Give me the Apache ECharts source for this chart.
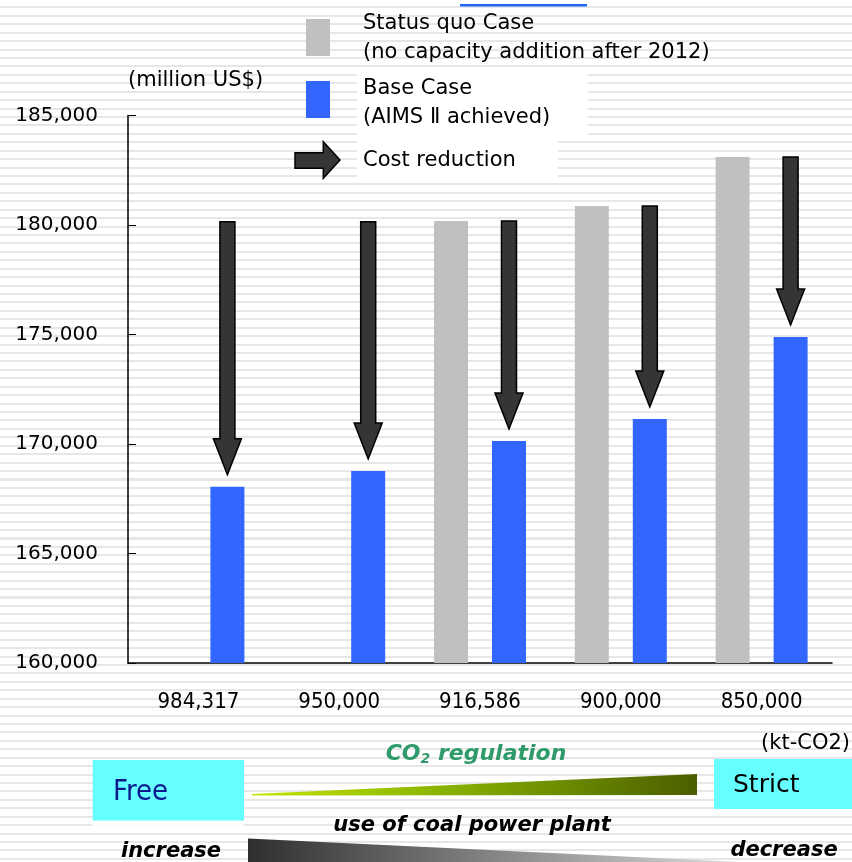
<!DOCTYPE html>
<html>
<head>
<meta charset="utf-8">
<script src="https://cdn.jsdelivr.net/npm/echarts@6/dist/echarts.min.js"></script>
<style>
  html, body { margin: 0; padding: 0; }
  body {
    width: 852px; height: 862px; overflow: hidden;
    background: repeating-linear-gradient(to bottom, #ffffff 0px, #ffffff 6.4px, #e7e7e7 6.4px, #e7e7e7 8.43px);
  }
  #chart { width: 852px; height: 862px; }
</style>
</head>
<body>
<div id="chart"></div>
<script>
// CO2 emission cap (kt-CO2) for each scenario
const categories = ['984,317', '950,000', '916,586', '900,000', '850,000'];
// Total system cost, million US$
const statusQuo = ['-', '-', 180180, 180870, 183100];
const baseCase = [168050, 168770, 170140, 171140, 174890];
// Start level of each cost-reduction arrow
const arrowFrom = [180150, 180150, 180180, 180870, 183100];

const yMin = 160000, yMax = 185000, yStep = 5000;

const BAR_W = 34;
const BAR_GAP = 24;
const BAR_OFFSET = (BAR_W + BAR_GAP) / 2;
const TIP_GAP = 12;

const arrowData = categories.map((c, i) => [i, arrowFrom[i], baseCase[i]]);

const FONT = '"DejaVu Sans", sans-serif';

const chart = echarts.init(document.getElementById('chart'), null, { renderer: 'canvas', width: 852, height: 862 });

function txt(x, y, text, style) {
  return { type: 'text', x: x, y: y, z: 10, style: Object.assign({ text: text, fill: '#000', font: '21px ' + FONT, textVerticalAlign: 'middle' }, style || {}) };
}

const option = {
  animation: false,
  grid: { left: 128, right: 20, top: 115.5, bottom: 199, containLabel: false },
  xAxis: {
    type: 'category',
    data: categories,
    axisLine: { lineStyle: { color: '#000', width: 1.5 } },
    axisTick: { inside: true, length: 8, lineStyle: { color: '#000' } },
    axisLabel: { margin: 28, color: '#000', fontSize: 22, fontFamily: '"Liberation Sans Narrow", "DejaVu Sans Condensed", sans-serif' }
  },
  yAxis: {
    type: 'value',
    min: yMin, max: yMax, interval: yStep,
    splitLine: { show: false },
    axisLine: { show: true, lineStyle: { color: '#000', width: 1.5 } },
    axisTick: { show: true, inside: true, length: 8, lineStyle: { color: '#000' } },
    axisLabel: {
      margin: 30, color: '#000', fontSize: 20, fontFamily: FONT,
      padding: [3, 0, 0, 0],
      formatter: v => v.toLocaleString('en-US')
    }
  },
  series: [
    {
      name: 'Status quo Case', type: 'bar', data: statusQuo,
      barWidth: BAR_W, barGap: (BAR_GAP / BAR_W * 100).toFixed(1) + '%',
      itemStyle: { color: '#c0c0c0' }
    },
    {
      name: 'Base Case', type: 'bar', data: baseCase,
      barWidth: BAR_W,
      itemStyle: { color: '#3366ff' }
    },
    {
      name: 'Cost reduction', type: 'custom', data: arrowData,
      encode: { x: 0, y: [1, 2] },
      z: 5,
      renderItem: function (params, api) {
        const i = api.value(0);
        const top = api.coord([i, api.value(1)]);
        const bot = api.coord([i, api.value(2)]);
        const cx = top[0] + BAR_OFFSET;
        const y0 = top[1];
        const tip = bot[1] - TIP_GAP;
        const headLen = 36, sh = 7.5, hh = 14;
        const yb = tip - headLen;
        return {
          type: 'polygon',
          shape: { points: [[cx - sh, y0], [cx + sh, y0], [cx + sh, yb], [cx + hh, yb], [cx, tip], [cx - hh, yb], [cx - sh, yb]] },
          style: { fill: '#353535', stroke: '#000', lineWidth: 1.5 }
        };
      }
    }
  ],
  graphic: [
    // title underline remnant at top
    { type: 'rect', shape: { x: 460, y: 4, width: 127, height: 2.5 }, style: { fill: '#1f66ff' } },
    // legend
    { type: 'rect', shape: { x: 357, y: 70, width: 231, height: 68 }, style: { fill: '#fff' } },
    { type: 'rect', shape: { x: 357, y: 140, width: 201, height: 40 }, style: { fill: '#fff' } },
    { type: 'rect', shape: { x: 306, y: 19, width: 24, height: 37 }, style: { fill: '#c0c0c0' } },
    { type: 'rect', shape: { x: 306, y: 81, width: 24, height: 37 }, style: { fill: '#3366ff' } },
    { type: 'polygon', shape: { points: [[295, 152.7], [323.3, 152.7], [323.3, 141.7], [340, 160], [323.3, 178.3], [323.3, 168.3], [295, 168.3]] },
      style: { fill: '#353535', stroke: '#000', lineWidth: 1.5 } },
    txt(363, 24, 'Status quo Case'),
    txt(363, 53, '(no capacity addition after 2012)'),
    txt(363, 89, 'Base Case'),
    txt(363, 118, '(AIMS Ⅱ achieved)'),
    txt(363, 161, 'Cost reduction'),
    // axis unit labels
    txt(128, 81, '(million US$)'),
    txt(850, 744, '(kt-CO2)', { textAlign: 'right' }),
    // regulation strength bar
    { type: 'rect', shape: { x: 92.7, y: 760, width: 151.3, height: 60.7 }, style: { fill: '#66ffff' } },
    { type: 'rect', shape: { x: 92.7, y: 820.7, width: 151.3, height: 5 }, style: { fill: '#fff' } },
    txt(113, 792, 'Free', { fill: '#0a1a8c', font: '29px "DejaVu Sans Condensed", ' + FONT }),
    { type: 'rect', shape: { x: 714, y: 759, width: 138, height: 50 }, style: { fill: '#66ffff' } },
    txt(733, 785, 'Strict', { font: '25px ' + FONT }),
    { type: 'polygon', shape: { points: [[252, 794], [697, 774], [697, 795], [252, 795.5]] },
      style: { fill: new echarts.graphic.LinearGradient(0, 0, 1, 0, [
        { offset: 0, color: '#c4e600' }, { offset: 0.45, color: '#86b000' }, { offset: 1, color: '#4b5e00' }]) } },
    {
      type: 'text', x: 476, y: 754, z: 10,
      style: {
        text: '{a|CO}{s|2}{a| regulation}',
        textAlign: 'center', textVerticalAlign: 'middle',
        rich: {
          a: { fill: '#2f9a6a', font: 'italic bold 22px ' + FONT },
          s: { fill: '#2f9a6a', font: 'italic bold 14px ' + FONT, padding: [10, 0, 0, 0] }
        }
      }
    },
    txt(472, 826, 'use of coal power plant', { textAlign: 'center', font: 'italic bold 21px ' + FONT }),
    { type: 'polygon', shape: { points: [[248, 838.5], [740, 862], [248, 862]] },
      style: { fill: new echarts.graphic.LinearGradient(0, 0, 1, 0, [
        { offset: 0, color: '#2e2e2e' }, { offset: 1, color: '#dcdcdc' }]) } },
    txt(171, 852, 'increase', { textAlign: 'center', font: 'italic bold 21px ' + FONT }),
    txt(784, 851, 'decrease', { textAlign: 'center', font: 'italic bold 21px ' + FONT })
  ]
};

chart.setOption(option);
</script>
</body>
</html>
